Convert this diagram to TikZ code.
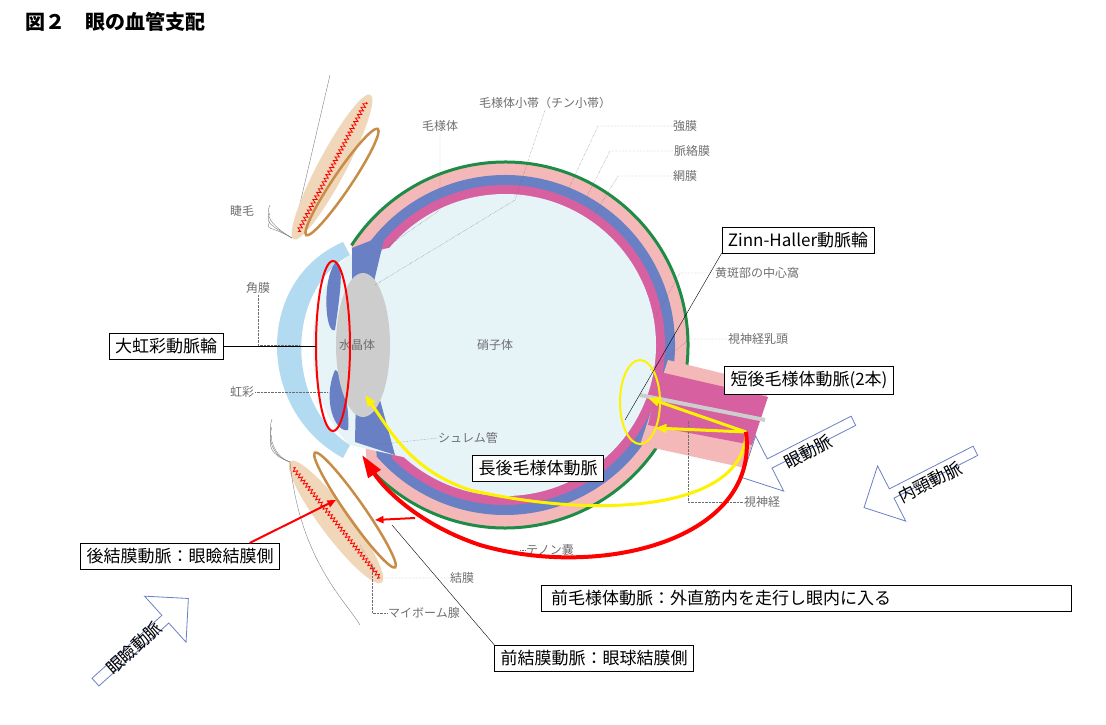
\documentclass[tikz,border=0pt]{standalone}
\usepackage{fontspec}
\setmainfont{Noto Sans CJK JP}
\usepackage{xcolor}
\usetikzlibrary{arrows.meta, positioning, shapes.arrows, decorations.pathmorphing}
\definecolor{sclera}{RGB}{244,184,184}
\definecolor{choroid}{RGB}{106,128,196}
\definecolor{retina}{RGB}{214,96,160}
\definecolor{vitreous}{RGB}{230,244,248}
\definecolor{cornea}{RGB}{178,218,240}
\definecolor{lens}{RGB}{205,205,205}
\definecolor{lidbrown}{RGB}{200,140,70}
\definecolor{skin}{RGB}{240,215,185}
\definecolor{eyegreen}{RGB}{30,140,70}
\definecolor{labelgray}{RGB}{110,110,110}

\begin{document}
\begin{tikzpicture}[
  x=1pt, y=-1pt,
  box/.style={
    draw,
    fill=white,
    font=\fontsize{17}{19}\selectfont,
    inner xsep=6pt,
    inner ysep=5pt
  },
  small/.style={
    text=labelgray,
    font=\fontsize{12}{14}\selectfont,
    inner sep=1pt
  },
  lead/.style={
    labelgray,
    densely dotted,
    thin
  },
  bigarrow/.style={
    single arrow,
    draw=choroid,
    thick,
    fill=white,
    minimum height=125pt,
    minimum width=62pt,
    single arrow head extend=12pt,
    inner sep=2pt,
    font=\fontsize{17}{19}\selectfont
  },
  arrtext/.style={
    font=\fontsize{17}{19}\selectfont
  },
  redarr/.style={
    -{Triangle[length=8mm,width=5mm]},
    red,
    line width=4pt
  },
  yelarr/.style={
    -{Triangle[length=4mm,width=3mm]},
    yellow,
    line width=3pt
  }
]
\useasboundingbox (0,0) rectangle (1106,724);

% Title
\node [anchor=west, font=\bfseries\fontsize{20}{22}\selectfont] (title) at (22,22) {図２　眼の血管支配};

% Eye wall
\fill [cornea] (343,242) .. controls (255,280) and (255,410) .. (343,458) -- (350,445) .. controls (285,405) and (285,290) .. (350,255) -- cycle;
\fill [sclera] (505,345) ++(-147:183) arc [start angle=-147, end angle=139, radius=183] -- cycle;
\fill [choroid] (505,345) ++(-147:170) arc [start angle=-147, end angle=139, radius=170] -- cycle;
\fill [retina] (505,345) ++(-143:160) arc [start angle=-143, end angle=135, radius=160] -- cycle;
\fill [vitreous] (505,345) ++(-140:151) arc [start angle=-140, end angle=132, radius=151] -- (350,445) .. controls (300,400) and (300,290) .. (350,255) -- cycle;
\draw [eyegreen, line width=3pt] (505,345) ++(-147:183) arc [start angle=-147, end angle=139, radius=183];

% Ciliary body, iris, lens
\fill [choroid] (352,248) -- (385,235) -- (372,290) -- (352,300) -- cycle;
\fill [choroid] (355,442) -- (395,455) -- (380,400) -- (356,395) -- cycle;
\fill [choroid] (335,263) .. controls (345,260) and (340,295) .. (335,330) .. controls (325,335) and (322,280) .. (335,263) -- cycle;
\fill [choroid] (335,370) .. controls (345,372) and (350,420) .. (348,430) .. controls (335,433) and (322,400) .. (335,370) -- cycle;
\fill [lens] (363,345) ellipse [x radius=27, y radius=72];

% Optic nerve
\fill [sclera] (668,360) -- (770,385) -- (745,468) -- (640,445) -- cycle;
\fill [retina] (660,372) -- (768,397) -- (752,445) -- (648,425) -- cycle;
\draw [lens, line width=4pt] (640,395) -- (765,420);

% Eyelids
\draw [gray] (330,75) -- (292,238);
\fill [skin, rotate around={62:(332,167)}] (332,167) ellipse [x radius=82, y radius=14];
\draw [red, thick, decorate, decoration={zigzag, amplitude=2pt, segment length=4pt}] (366,102) -- (298,232);
\draw [lidbrown, line width=2.5pt, rotate around={56:(342,182)}] (342,182) ellipse [x radius=64, y radius=9];
\fill [skin, rotate around={-53:(336,522)}] (336,522) ellipse [x radius=76, y radius=15];
\draw [red, thick, decorate, decoration={zigzag, amplitude=2pt, segment length=4pt}] (293,468) -- (380,578);
\draw [lidbrown, line width=2.5pt, rotate around={-55:(355,510)}] (355,510) ellipse [x radius=70, y radius=9];
\draw [gray] (290,462) .. controls (300,560) and (345,600) .. (360,625);
\foreach \i in {0,8,16} {
  \draw [gray, thin] (292,238) .. controls (270,225) and (265,215+\i) .. (270,205+\i);
  \draw [gray, thin] (290,462) .. controls (270,455) and (268,445-\i) .. (272,435-\i);
}

% Small labels
\node [small] (zonule) at (545,103) {毛様体小帯（チン小帯）};
\node [small] (ciliary) at (440,126) {毛様体};
\node [small] (sclr) at (685,126) {強膜};
\node [small] (chor) at (692,151) {脈絡膜};
\node [small] (ret) at (685,176) {網膜};
\node [small] (lash) at (242,211) {睫毛};
\node [small] (fovea) at (757,273) {黄斑部の中心窩};
\node [small] (corn) at (258,288) {角膜};
\node [small] (lns) at (357,345) {水晶体};
\node [small] (vit) at (495,345) {硝子体};
\node [small] (disc) at (758,339) {視神経乳頭};
\node [small] (irs) at (242,392) {虹彩};
\node [small] (schlemm) at (468,438) {シュレム管};
\node [small] (nerve) at (762,502) {視神経};
\node [small] (tenon) at (550,550) {テノン嚢};
\node [small] (conj) at (462,578) {結膜};
\node [small] (meibom) at (424,613) {マイボーム腺};

\draw [lead] (zonule.south) -- (515,200) -- (375,285);
\draw [lead] (ciliary.south) -- (440,210) -- (375,255);
\draw [lead] (sclr.west) -- (598,126) -- (568,190);
\draw [lead] (chor.west) -- (610,151) -- (585,200);
\draw [lead] (ret.west) -- (618,176) -- (594,215);
\draw [lead] (fovea.west) -- (680,273) -- (655,318);
\draw [lead] (corn.south) -- (258,345) -- (300,345);
\draw [lead] (disc.west) -- (690,339) -- (650,370);
\draw [lead] (irs.east) -- (328,392);
\draw [lead] (schlemm.west) -- (375,445);
\draw [lead] (nerve.west) -- (688,502) -- (688,420);
\draw [lead] (tenon.west) -- (520,550);
\draw [lead] (conj.west) -- (380,578) -- (360,545);
\draw [lead] (meibom.west) -- (372,613) -- (372,565);

% Boxed labels
\node [box] (zinn) at (798,240) {Zinn-Haller動脈輪};
\node [box] (iris) at (166,346) {大虹彩動脈輪};
\node [box] (spca) at (809,380) {短後毛様体動脈(2本)};
\node [box] (lpca) at (538,468) {長後毛様体動脈};
\node [box] (pcon) at (180,556) {後結膜動脈：眼瞼結膜側};
\node [box, minimum width=530pt, text width=510pt, align=left] (aca) at (806,598) {前毛様体動脈：外直筋内を走行し眼内に入る};
\node [box] (acon) at (594,658) {前結膜動脈：眼球結膜側};

% Circles of Zinn-Haller and major arterial circle
\draw [red, line width=2pt] (333,346) ellipse [x radius=17, y radius=85];
\draw [yellow, line width=2pt] (640,402) ellipse [x radius=20, y radius=42];
\draw (iris.east) -- (316,346);
\draw (zinn.south west) -- (625,420);
\draw (acon.north west) -- (392,525);

% Block arrows
\node [bigarrow, rotate=-153] (oph) at (800,448) {};
\node [arrtext, rotate=27] (ophtxt) at (808,452) {眼動脈};
\node [bigarrow, rotate=-153] (ica) at (922,478) {};
\node [arrtext, rotate=27] (icatxt) at (930,482) {内頸動脈};
\node [bigarrow, rotate=42] (pal) at (140,642) {};
\node [arrtext, rotate=42] (paltxt) at (134,648) {眼瞼動脈};
\coordinate (src) at (746,432);

% Arteries
\draw [yelarr] (src) -- (648,398);
\draw [yelarr] (src) -- (655,428);
\draw [yelarr] (src) .. controls (745,510) and (600,520) .. (470,490) .. controls (410,470) and (390,430) .. (365,395);
\draw [redarr] (src) .. controls (760,540) and (600,580) .. (480,545) .. controls (420,525) and (385,490) .. (362,455);
\draw [-{Triangle[length=3mm,width=2.5mm]}, red, line width=2pt] (pcon.north east) ++(-30,0) -- (336,500);
\draw [-{Triangle[length=3mm,width=2.5mm]}, red, line width=2pt] (415,518) -- (375,520);

\end{tikzpicture}
\end{document}
